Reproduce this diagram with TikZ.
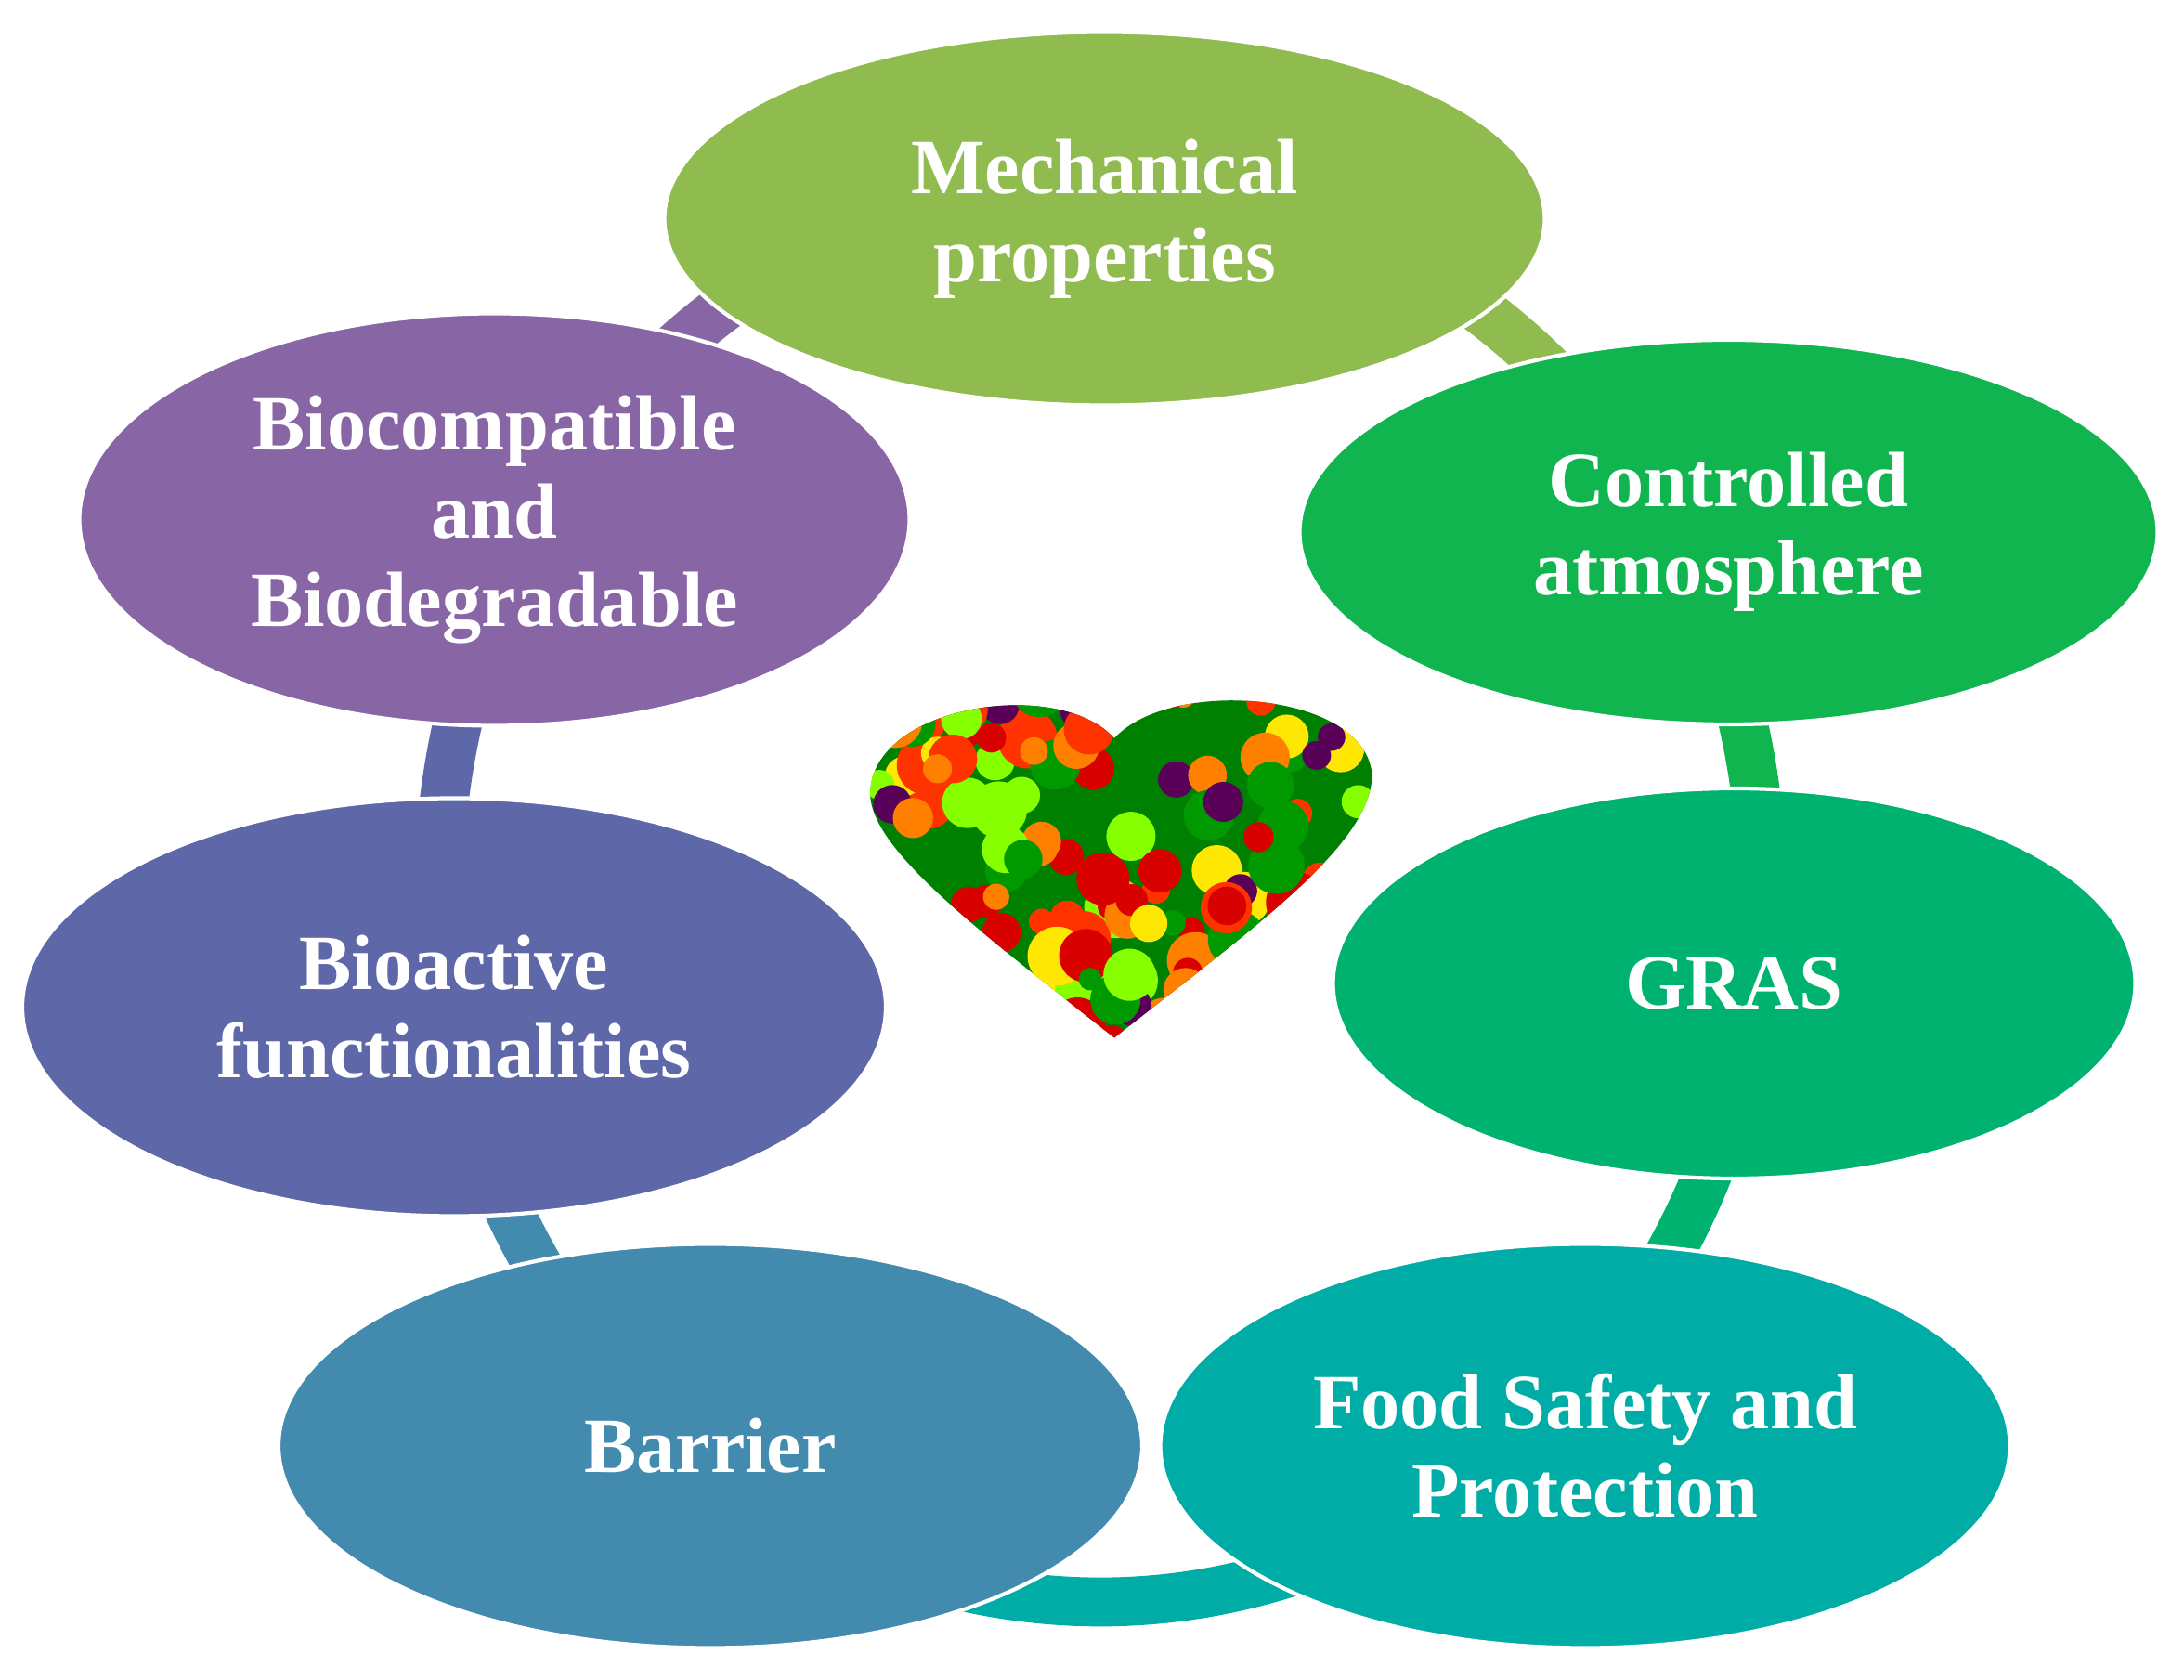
\documentclass[tikz,border=0pt]{standalone}
\usepackage{fontspec}
\setmainfont{Liberation Serif}
\begin{document}
\begin{tikzpicture}[x=0.05cm,y=0.05cm,
  bub/.style={draw=white,line width=4pt,fill=#1},
  lab/.style={text=white,font=\fontsize{80}{90}\selectfont\bfseries,align=center},
  ring/.style={line width=50pt,draw=#1}]
\definecolor{cMech}{HTML}{8FBB4F}
\definecolor{cCtrl}{HTML}{10B54F}
\definecolor{cGras}{HTML}{00B26F}
\definecolor{cFood}{HTML}{00ADA6}
\definecolor{cBarr}{HTML}{428BAE}
\definecolor{cBioa}{HTML}{5E68A8}
\definecolor{cBioc}{HTML}{8866A6}
\useasboundingbox (0,0) rectangle (1568,1206);
\fill[white] (0,0) rectangle (1568,1206);
\coordinate (rc) at (790,566);
\draw[ring=cMech] (rc) ++(90:475 and 510) arc[start angle=90,end angle=28,x radius=475,y radius=510];
\draw[ring=cCtrl] (rc) ++(28:475 and 510) arc[start angle=28,end angle=-8,x radius=475,y radius=510];
\draw[ring=cGras] (rc) ++(-8:475 and 510) arc[start angle=-8,end angle=-47,x radius=475,y radius=510];
\draw[ring=cFood] (rc) ++(-47:475 and 510) arc[start angle=-47,end angle=-127,x radius=475,y radius=510];
\draw[ring=cBarr] (rc) ++(-127:475 and 510) arc[start angle=-127,end angle=-170,x radius=475,y radius=510];
\draw[ring=cBioa] (rc) ++(190:475 and 510) arc[start angle=190,end angle=150,x radius=475,y radius=510];
\draw[ring=cBioc] (rc) ++(150:475 and 510) arc[start angle=150,end angle=90,x radius=475,y radius=510];
\draw[bub=cMech] (793,1049) ellipse [x radius=316,y radius=134];
\draw[bub=cCtrl] (1241,824) ellipse [x radius=308,y radius=138];
\draw[bub=cGras] (1245,500) ellipse [x radius=288,y radius=140];
\draw[bub=cFood] (1138,168) ellipse [x radius=305,y radius=145];
\draw[bub=cBarr] (510,168) ellipse [x radius=310,y radius=145];
\draw[bub=cBioa] (326,483) ellipse [x radius=310,y radius=150];
\draw[bub=cBioc] (355,833) ellipse [x radius=298,y radius=148];
\node[lab] (mech) at (793,1049) {Mechanical\\properties};
\node[lab] (ctrl) at (1241,824) {Controlled\\atmosphere};
\node[lab] (gras) at (1245,500) {GRAS};
\node[lab] (food) at (1138,168) {Food Safety and\\Protection};
\node[lab] (barr) at (510,168) {Barrier};
\node[lab] (bioa) at (326,483) {Bioactive\\functionalities};
\node[lab] (bioc) at (355,833) {Biocompatible\\and\\Biodegradable};
\begin{scope}
\clip (800,461) .. controls (700,540) and (620,600) .. (625,640) .. controls (630,700) and (760,720) .. (800,676) .. controls (840,720) and (980,710) .. (985,650) .. controls (985,600) and (900,540) .. (800,461);
\fill[green!50!black] (600,450) rectangle (1000,720);
\pgfmathsetseed{7}
\foreach \i in {1,...,140}{
  \pgfmathsetmacro{\px}{620+365*rnd}
  \pgfmathsetmacro{\py}{455+265*rnd}
  \pgfmathsetmacro{\pr}{8+14*rnd}
  \pgfmathtruncatemacro{\pc}{int(7*rnd)}
  \ifcase\pc \def\cc{red!85!black}\or\def\cc{orange}\or\def\cc{yellow!90!orange}\or\def\cc{green!60!black}\or\def\cc{violet!70!black}\or\def\cc{lime!70!green}\or\def\cc{red!60!orange}\fi
  \fill[\cc] (\px,\py) circle (\pr);
}
\end{scope}
\end{tikzpicture}
\end{document}
